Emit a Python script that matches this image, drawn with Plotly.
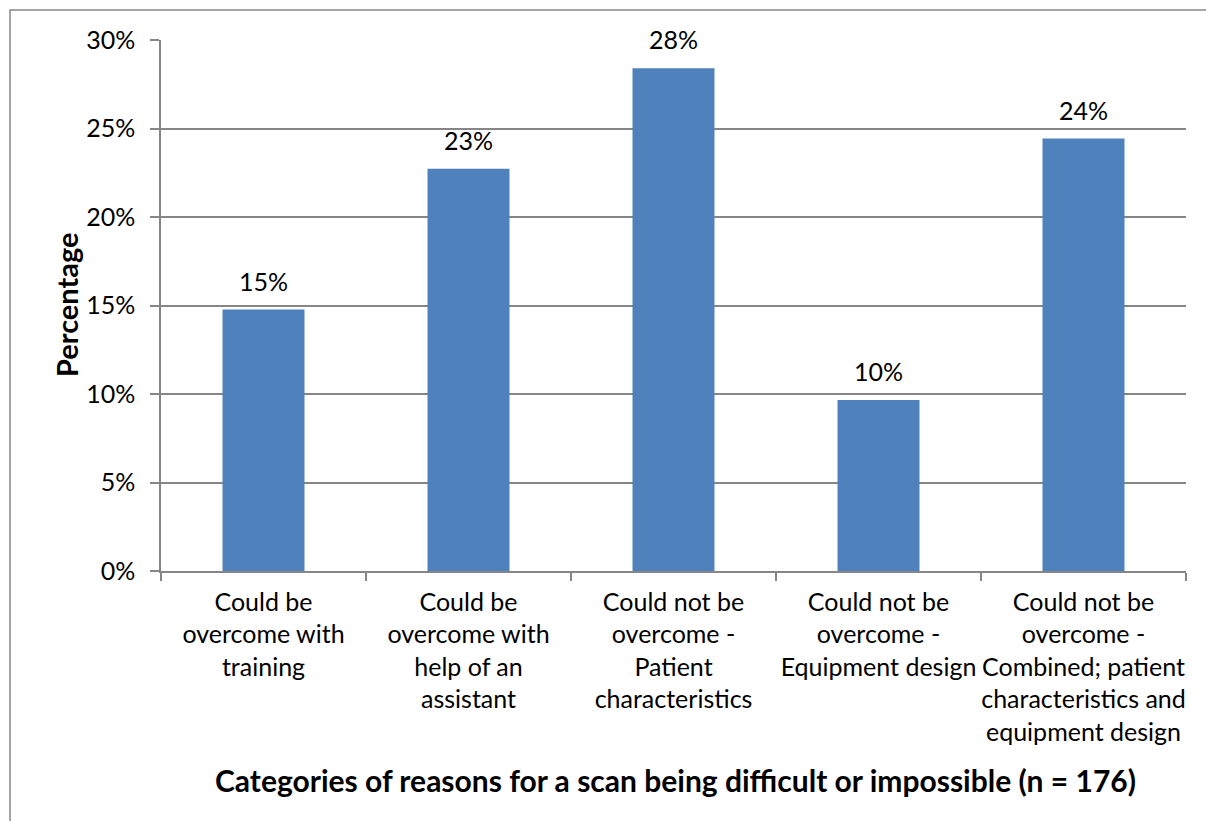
import plotly.graph_objects as go

# Scan difficulty reasons, counts out of n = 176
categories = [
    "Could be<br>overcome with<br>training",
    "Could be<br>overcome with<br>help of an<br>assistant",
    "Could not be<br>overcome -<br>Patient<br>characteristics",
    "Could not be<br>overcome -<br>Equipment design",
    "Could not be<br>overcome -<br>Combined; patient<br>characteristics and<br>equipment design",
]
counts = [26, 40, 50, 17, 43]
total = 176
percentages = [c / total * 100 for c in counts]

y_tickvals = [0, 5, 10, 15, 20, 25, 30]
y_ticktext = ["0%", "5%", "10%", "15%", "20%", "25%", "30%"]

FONT = "Lato"
GRID = "#868686"
BAR = "#4F81BD"
TICK_SIZE = 25

fig = go.Figure(
    go.Bar(
        x=categories,
        y=percentages,
        width=0.4,
        marker=dict(color=BAR, line=dict(width=0)),
        hoverinfo="skip",
    )
)

# value labels floating above each bar
value_labels = [
    dict(
        x=cat, y=pct, xref="x", yref="y",
        text=f"{pct:.0f}%",
        showarrow=False,
        xanchor="center", yanchor="bottom",
        yshift=12,
        font=dict(family=FONT, size=TICK_SIZE, color="black"),
    )
    for cat, pct in zip(categories, percentages)
]

fig.update_layout(
    width=1206,
    height=821,
    margin=dict(l=161, r=20, t=40, b=250),
    paper_bgcolor="white",
    plot_bgcolor="white",
    showlegend=False,
    font=dict(family=FONT, size=TICK_SIZE, color="black"),
    xaxis=dict(
        type="category",
        tickson="boundaries",
        ticks="outside",
        ticklen=8,
        tickwidth=1.5,
        tickcolor=GRID,
        showline=True,
        linecolor=GRID,
        linewidth=1.5,
        showgrid=False,
        tickangle=0,
        ticklabelstandoff=8,
        tickfont=dict(family=FONT, size=TICK_SIZE, color="black"),
    ),
    yaxis=dict(
        range=[0, 30],
        tickvals=y_tickvals,
        ticktext=y_ticktext,
        ticks="outside",
        ticklen=9,
        tickwidth=1.5,
        tickcolor=GRID,
        showline=True,
        linecolor=GRID,
        linewidth=1.5,
        showgrid=True,
        gridcolor=GRID,
        gridwidth=1.5,
        zeroline=False,
        ticklabelstandoff=10,
        tickfont=dict(family=FONT, size=TICK_SIZE, color="black"),
    ),
    annotations=value_labels + [
        dict(
            text="<b>Categories of reasons for a scan being difficult or impossible (n = 176)</b>",
            xref="paper", yref="paper",
            x=(675 - 161) / 1025, y=(571 - 780) / 531,
            xanchor="center", yanchor="middle",
            showarrow=False,
            font=dict(family=FONT, size=30, color="black"),
        ),
        dict(
            text="<b>Percentage</b>",
            xref="paper", yref="paper",
            x=(66 - 161) / 1025, y=(571 - 305) / 531,
            xanchor="center", yanchor="middle",
            textangle=-90,
            showarrow=False,
            font=dict(family=FONT, size=29, color="black"),
        ),
    ],
    shapes=[
        dict(
            type="rect",
            xref="paper", yref="paper",
            x0=(10 - 161) / 1025, x1=(1215 - 161) / 1025,
            y0=(571 - 830) / 531, y1=(571 - 10) / 531,
            line=dict(color=GRID, width=1.5),
            fillcolor="rgba(0,0,0,0)",
            layer="below",
        )
    ],
)

fig.write_html("out.html")
